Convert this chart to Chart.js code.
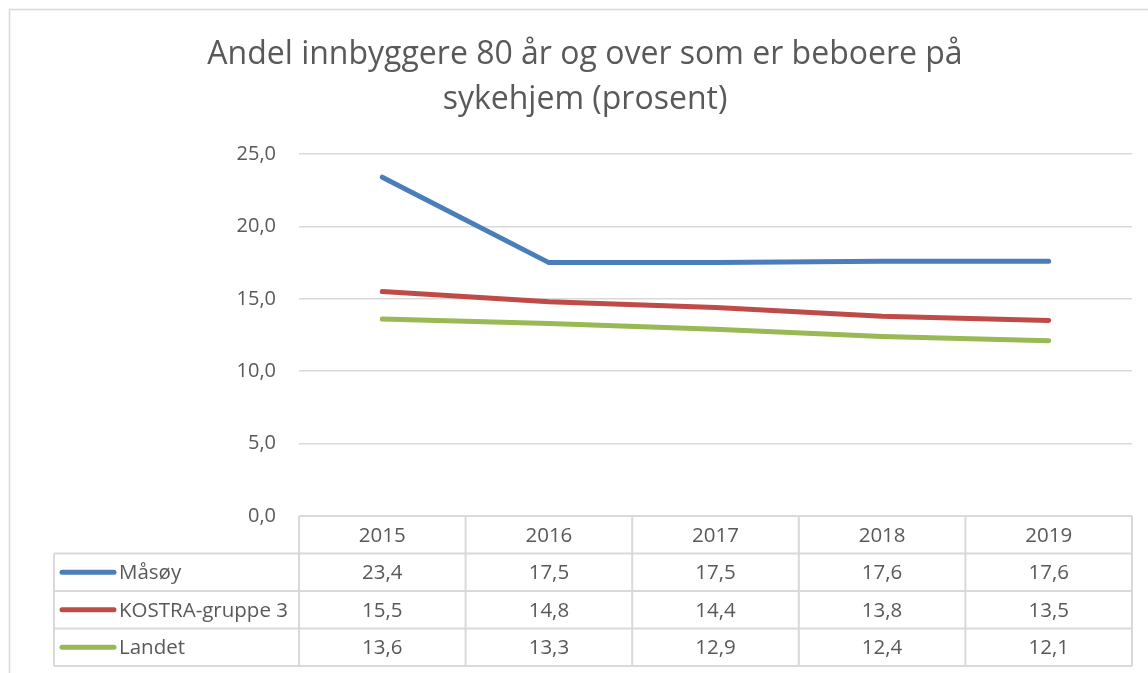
<!DOCTYPE html>
<html>
<head>
<meta charset="utf-8">
<script src="https://cdn.jsdelivr.net/npm/chart.js@4"></script>
<style>
html,body{margin:0;padding:0;background:#fff;}
#wrap{width:1148px;height:673px;position:relative;}
</style>
</head>
<body>
<div id="wrap"><canvas id="c"></canvas></div>
<script>
const titleLines = ['Andel innbyggere 80 år og over som er beboere på', 'sykehjem (prosent)'];
const categories = ['2015', '2016', '2017', '2018', '2019'];
const seriesNames = ['Måsøy', 'KOSTRA-gruppe 3', 'Landet'];
const masoy = [23.4, 17.5, 17.5, 17.6, 17.6];
const kostra = [15.5, 14.8, 14.4, 13.8, 13.5];
const landet = [13.6, 13.3, 12.9, 12.4, 12.1];
const yTicks = [0, 5, 10, 15, 20, 25];

const colors = ['#4a7ebb', '#be4b48', '#98b954'];
const textColor = '#595959';
const lineGray = '#d9d9d9';
const FONT = '"Open Sans", "Liberation Sans", sans-serif';
const fmt = v => Number(v).toFixed(1).replace('.', ',');

const framePlugin = {
  id: 'frame',
  beforeDraw(chart) {
    const ctx = chart.ctx;
    ctx.save();
    ctx.fillStyle = '#fff';
    ctx.fillRect(0, 0, chart.width, chart.height);
    ctx.strokeStyle = lineGray;
    ctx.lineWidth = 1.5;
    ctx.strokeRect(9.5, 9.5, chart.width + 20, chart.height + 20);
    // title
    ctx.fillStyle = textColor;
    ctx.font = '32px ' + FONT;
    ctx.textAlign = 'center';
    ctx.textBaseline = 'middle';
    ctx.fillText(titleLines[0], 585, 55);
    ctx.fillText(titleLines[1], 585, 100);
    ctx.restore();
  },
  afterDraw(chart) {
    const ctx = chart.ctx;
    const area = chart.chartArea;
    const x = chart.scales.x;
    const colW = x.getPixelForValue(1) - x.getPixelForValue(0);
    const top = area.bottom;
    const rowH = 37.5;
    const legendLeft = 54;
    const nRows = chart.data.datasets.length;
    const bottom = top + rowH * (nRows + 1);
    ctx.save();
    ctx.strokeStyle = lineGray;
    ctx.lineWidth = 2;
    ctx.beginPath();
    ctx.moveTo(area.left, top); ctx.lineTo(area.right, top);
    for (let r = 1; r <= nRows + 1; r++) {
      const yy = top + r * rowH;
      ctx.moveTo(legendLeft, yy); ctx.lineTo(area.right, yy);
    }
    for (let k = 0; k <= categories.length; k++) {
      const xx = x.getPixelForValue(0) - colW / 2 + k * colW;
      ctx.moveTo(xx, top); ctx.lineTo(xx, bottom);
    }
    ctx.moveTo(legendLeft, top + rowH); ctx.lineTo(legendLeft, bottom);
    ctx.stroke();

    ctx.fillStyle = textColor;
    ctx.font = '20.5px ' + FONT;
    ctx.textBaseline = 'middle';
    ctx.textAlign = 'center';
    categories.forEach((c, i) => {
      ctx.fillText(c, x.getPixelForValue(i), top + rowH / 2 + 1);
    });
    chart.data.datasets.forEach((ds, r) => {
      const yy = top + (r + 1) * rowH + rowH / 2 + 1;
      ctx.textAlign = 'center';
      ctx.fillStyle = textColor;
      ds.data.forEach((v, i) => {
        ctx.fillText(fmt(v), x.getPixelForValue(i), yy);
      });
      // legend key
      ctx.strokeStyle = ds.borderColor;
      ctx.lineWidth = 5;
      ctx.lineCap = 'round';
      ctx.beginPath();
      ctx.moveTo(62, yy - 1); ctx.lineTo(114, yy - 1);
      ctx.stroke();
      ctx.textAlign = 'left';
      ctx.fillText(ds.label, 119, yy);
    });
    ctx.restore();
  }
};

const mk = (label, data, color) => ({
  label, data, borderColor: color, backgroundColor: color,
  borderWidth: 5, pointRadius: 0, tension: 0, borderCapStyle: 'round', borderJoinStyle: 'round', fill: false
});

new Chart(document.getElementById('c'), {
  type: 'line',
  data: {
    labels: categories,
    datasets: [
      mk(seriesNames[0], masoy, colors[0]),
      mk(seriesNames[1], kostra, colors[1]),
      mk(seriesNames[2], landet, colors[2])
    ]
  },
  plugins: [framePlugin],
  options: {
    responsive: true,
    maintainAspectRatio: false,
    animation: false,
    layout: { padding: { top: 154, bottom: 157, left: 0, right: 16 } },
    plugins: { legend: { display: false }, title: { display: false }, tooltip: { enabled: false } },
    scales: {
      x: { type: 'category', display: false, offset: true },
      y: {
        min: 0, max: 25,
        afterBuildTicks(scale) { scale.ticks = yTicks.map(v => ({ value: v })); },
        afterFit(scale) { scale.width = 299; },
        border: { display: false },
        grid: { color: lineGray, lineWidth: 1.5, drawTicks: false },
        ticks: { color: textColor, padding: 23, font: { family: FONT, size: 20 }, callback: v => fmt(v) }
      }
    }
  }
});
</script>
</body>
</html>
